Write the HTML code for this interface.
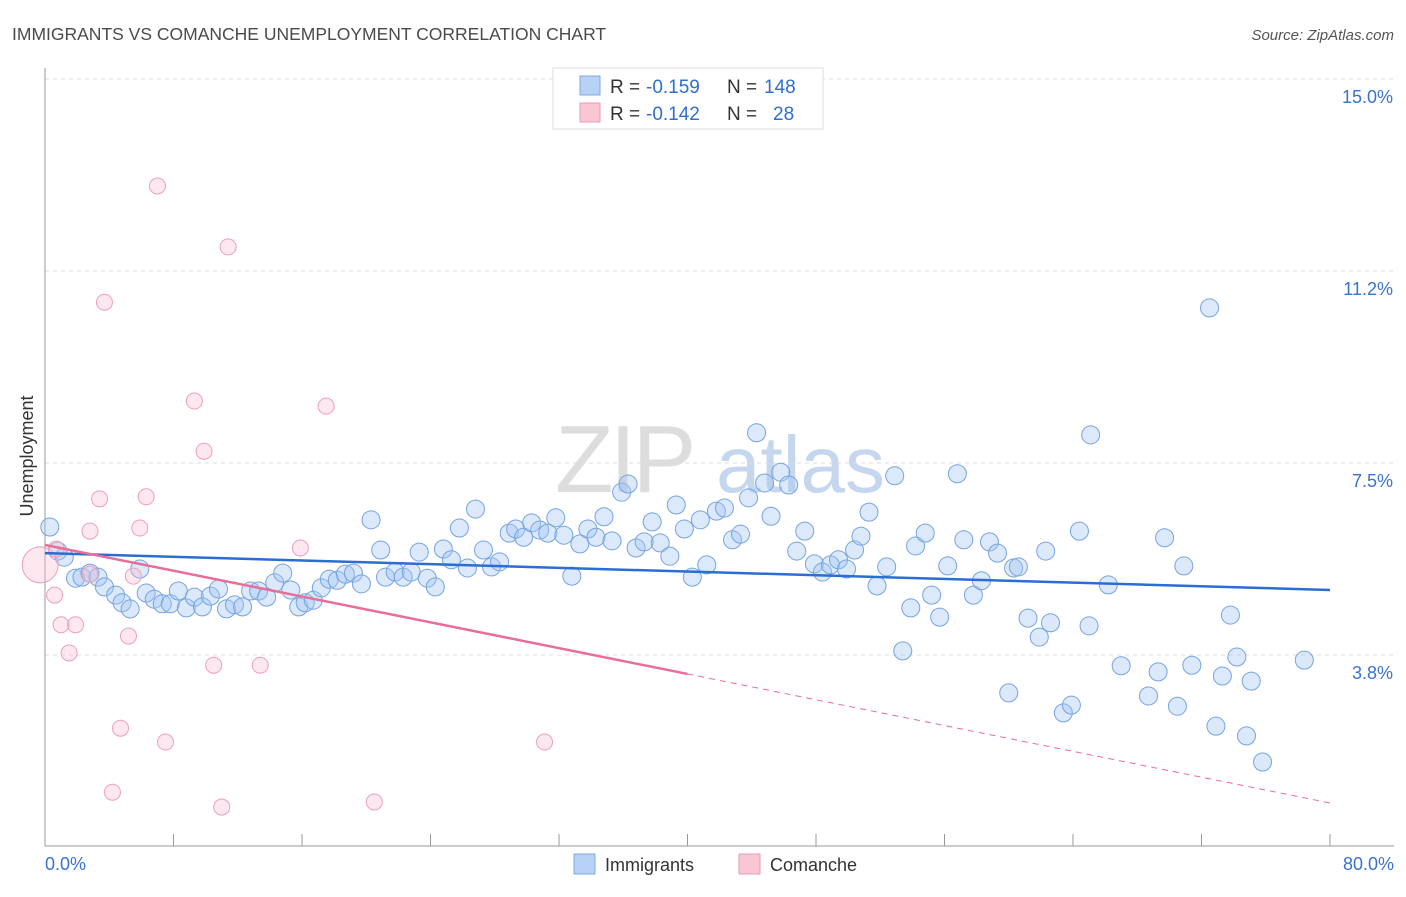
<!DOCTYPE html>
<html><head><meta charset="utf-8"><style>
body{margin:0;background:#fff;font-family:"Liberation Sans",sans-serif;}
svg text{font-family:"Liberation Sans",sans-serif;}
</style></head><body>
<svg id="chart" width="1406" height="892" xmlns="http://www.w3.org/2000/svg">
<text x="12" y="40" font-size="17.5" fill="#4a4a4a">IMMIGRANTS VS COMANCHE UNEMPLOYMENT CORRELATION CHART</text>
<text x="1394" y="40" font-size="15" fill="#555" text-anchor="end" font-style="italic">Source: ZipAtlas.com</text>
<g>
<text x="555" y="492" font-size="96" fill="#ddd" font-family="Liberation Serif" letter-spacing="-4">ZIP</text>
<text x="716" y="492" font-size="80" fill="#c5d7ee">atlas</text>
</g>
<g id="grid"></g>
<g id="axes"></g>
<g id="blue"></g>
<g id="pink"></g>
<g id="trends"></g>
<text transform="translate(33,456) rotate(-90)" font-size="18" fill="#333" text-anchor="middle">Unemployment</text>
<g>
<rect x="553" y="68" width="270" height="61" fill="#fff" stroke="#ddd"/>
<rect x="580" y="76" width="20" height="19" fill="#b8d2f5" stroke="#7fa8e0"/>
<rect x="580" y="103" width="20" height="19" fill="#f9c6d4" stroke="#ec9ab2"/>
<text x="610" y="93" font-size="19" fill="#333">R =</text>
<text x="646" y="93" font-size="19" fill="#2f6fd0">-0.159</text>
<text x="727" y="93" font-size="19" fill="#333">N =</text>
<text x="764" y="93" font-size="19" fill="#2f6fd0">148</text>
<text x="610" y="120" font-size="19" fill="#333">R =</text>
<text x="646" y="120" font-size="19" fill="#2f6fd0">-0.142</text>
<text x="727" y="120" font-size="19" fill="#333">N =</text>
<text x="773" y="120" font-size="19" fill="#2f6fd0">28</text>
</g>
<g>
<rect x="574" y="854" width="21" height="20" fill="#b8d2f5" stroke="#7fa8e0"/>
<text x="605" y="871" font-size="18" fill="#333">Immigrants</text>
<rect x="739" y="854" width="21" height="20" fill="#f9c6d4" stroke="#ec9ab2"/>
<text x="770" y="871" font-size="18" fill="#333">Comanche</text>
</g>
</svg>
<script>
const yTicks=[3.75,7.5,11.25,15];
const yTickLabels=["3.8%","7.5%","11.2%","15.0%"];
const xTickLabels=["0.0%","80.0%"];
const blueX=[0.3,0.8,1.2,1.9,2.3,2.8,3.3,3.7,4.4,4.8,5.3,5.9,6.3,6.8,7.3,7.8,8.3,8.8,9.3,9.8,10.3,10.8,11.3,11.8,12.3,12.8,13.3,13.8,14.3,14.8,15.3,15.8,16.2,16.7,17.2,17.7,18.2,18.7,19.2,19.7,20.3,20.9,21.2,21.8,22.3,22.8,23.3,23.8,24.3,24.8,25.3,25.8,26.3,26.8,27.3,27.8,28.3,28.9,29.3,29.8,30.3,30.8,31.3,31.8,32.3,32.8,33.3,33.8,34.3,34.8,35.3,35.9,36.3,36.8,37.3,37.8,38.3,38.9,39.3,39.8,40.3,40.8,41.2,41.8,42.3,42.8,43.3,43.8,44.3,44.8,45.2,45.8,46.3,46.8,47.3,47.9,48.4,48.9,49.4,49.9,50.4,50.8,51.3,51.8,52.4,52.9,53.4,53.9,54.2,54.8,55.2,55.7,56.2,56.8,57.2,57.8,58.3,58.8,59.3,60.0,60.3,60.6,61.2,61.9,62.3,62.6,63.4,63.9,64.4,65.0,65.1,66.2,67.0,68.7,69.3,69.7,70.5,70.9,71.4,72.5,72.9,73.3,73.8,74.2,74.8,75.1,75.8,78.4];
const blueY=[6.25,5.78,5.66,5.25,5.27,5.35,5.27,5.08,4.92,4.77,4.65,5.43,4.96,4.84,4.75,4.75,5.00,4.67,4.88,4.69,4.90,5.04,4.65,4.73,4.69,5.00,5.00,4.88,5.16,5.35,5.02,4.69,4.77,4.82,5.06,5.23,5.21,5.33,5.35,5.14,6.39,5.80,5.27,5.37,5.27,5.37,5.76,5.25,5.08,5.82,5.61,6.23,5.45,6.60,5.80,5.47,5.57,6.13,6.21,6.05,6.33,6.19,6.13,6.43,6.09,5.29,5.92,6.21,6.05,6.45,5.98,6.93,7.09,5.84,5.96,6.35,5.94,5.68,6.68,6.21,5.27,6.39,5.51,6.56,6.62,6.00,6.11,6.82,8.09,7.11,6.46,7.32,7.07,5.78,6.17,5.53,5.37,5.51,5.61,5.43,5.80,6.07,6.54,5.10,5.47,7.25,3.83,4.67,5.88,6.13,4.92,4.49,5.49,7.29,6.00,4.92,5.20,5.96,5.74,3.01,5.45,5.47,4.47,4.10,5.78,4.38,2.62,2.77,6.17,4.32,8.05,5.12,3.54,2.95,3.42,6.04,2.75,5.49,3.55,10.53,2.36,3.34,4.53,3.71,2.17,3.24,1.66,3.65];
const pinkX=[-0.3,0.6,0.7,1.0,1.5,1.9,2.8,2.8,3.4,3.7,4.2,4.7,5.2,5.5,5.9,6.3,7.0,7.5,9.3,9.9,10.5,11.0,11.4,13.4,15.9,17.5,20.5,31.1];
const pinkY=[5.51,4.92,5.82,4.34,3.79,4.34,6.17,5.33,6.80,10.64,1.07,2.32,4.12,5.29,6.23,6.84,12.91,2.05,8.71,7.73,3.55,0.78,11.72,3.55,5.84,8.61,0.88,2.05];
const blueTrend=[5.74,5.02];
const pinkTrend=[5.90,0.86];
const pinkSolidEnd=40;

const NS="http://www.w3.org/2000/svg";
const X0=45,X1=1330,Y0=847,PX=51.2;
function sx(v){return X0+(v/80)*(X1-X0);}
function sy(v){return Y0-v*PX;}
function mk(tag,attrs,parent){const e=document.createElementNS(NS,tag);for(const k in attrs)e.setAttribute(k,attrs[k]);parent.appendChild(e);return e;}
const grid=document.getElementById('grid'),axes=document.getElementById('axes');
yTicks.forEach((t,i)=>{
 const l=mk('line',{x1:X0,x2:1394,y1:sy(t),y2:sy(t),stroke:'#ddd','stroke-dasharray':'4,4'},grid);
 
 
 const tx=mk('text',{x:1393,y:sy(t)+24,'font-size':18,fill:'#3a72d0','text-anchor':'end'},axes);
 tx.textContent=yTickLabels[i];
 
 
});
const ya=mk('line',{x1:X0,x2:X0,y1:68,y2:846,stroke:'#999'},axes);


const xa=mk('line',{x1:X0,x2:1394,y1:846,y2:846,stroke:'#999'},axes);


for(let i=0;i<=10;i++){
 const t=mk('line',{x1:sx(i*8),x2:sx(i*8),y1:834,y2:846,stroke:'#999'},axes);
 
 
}
[[0,'start',45],[80,'end',1394]].forEach((d,i)=>{
 const tx=mk('text',{x:d[2],y:870,'font-size':18,fill:'#3a72d0','text-anchor':d[1]},axes);
 tx.textContent=xTickLabels[i];
 
 
});
const bg=document.getElementById('blue');
blueX.forEach((x,i)=>{
 const c=mk('circle',{cx:sx(x),cy:sy(blueY[i]),r:9,fill:'rgba(160,196,242,0.38)',stroke:'#76a3e2','stroke-width':1},bg);
 
 
});
const pg=document.getElementById('pink');
pinkX.forEach((x,i)=>{
 const c=mk('circle',{cx:sx(x),cy:sy(pinkY[i]),r:i===0?18:8,fill:'rgba(248,190,208,0.35)',stroke:'#eda0b7','stroke-width':1},pg);
 
 
});
const tg=document.getElementById('trends');
const bl=mk('line',{x1:sx(0),y1:sy(blueTrend[0]),x2:sx(80),y2:sy(blueTrend[1]),stroke:'#2a6dd4','stroke-width':2.5},tg);


const pm=pinkTrend[0]+(pinkTrend[1]-pinkTrend[0])*pinkSolidEnd/80;
const pl=mk('line',{x1:sx(0),y1:sy(pinkTrend[0]),x2:sx(pinkSolidEnd),y2:sy(pm),stroke:'#e86d98','stroke-width':2.5},tg);


const pd=mk('line',{x1:sx(pinkSolidEnd),y1:sy(pm),x2:sx(80),y2:sy(pinkTrend[1]),stroke:'#e86d98','stroke-width':1,'stroke-dasharray':'6,5'},tg);


</script>
</body></html>
